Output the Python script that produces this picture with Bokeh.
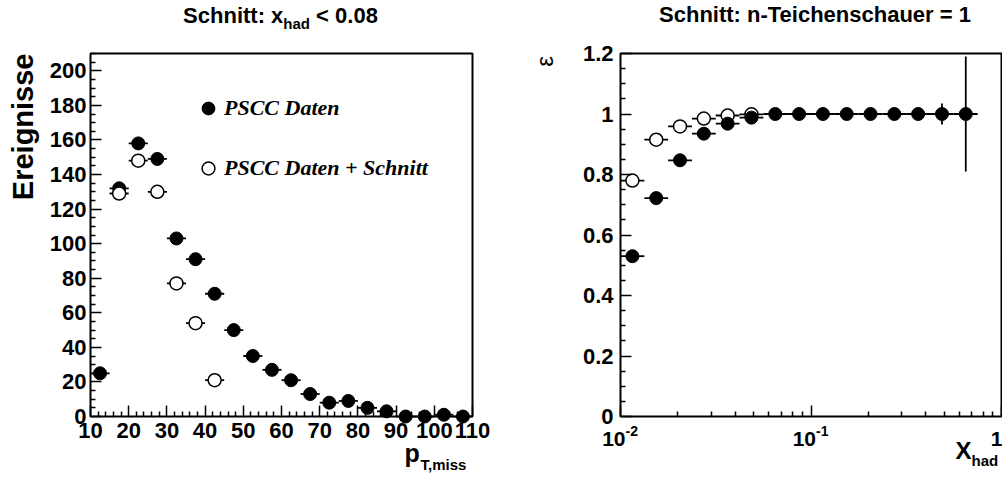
import math
from bokeh.plotting import figure
from bokeh.layouts import row
from bokeh.models import ColumnDataSource, FixedTicker, Legend, LegendItem, Range1d
from bokeh.core.properties import value
from bokeh.embed import file_html
from bokeh.resources import INLINE

# ---------------- data: left panel (p_T,miss distribution) ----------------
pt_centers = [12.5, 17.5, 22.5, 27.5, 32.5, 37.5, 42.5, 47.5, 52.5, 57.5,
              62.5, 67.5, 72.5, 77.5, 82.5, 87.5, 92.5, 97.5, 102.5, 107.5]
pt_bin_half_width = 2.5
events_all = [25, 132, 158, 149, 103, 91, 71, 50, 35, 27,
              21, 13, 8, 9, 5, 3, 0, 0, 1, 0]
pt_centers_cut = [17.5, 22.5, 27.5, 32.5, 37.5, 42.5]
events_cut = [129, 148, 130, 77, 54, 21]
left_x_ticks = [10, 20, 30, 40, 50, 60, 70, 80, 90, 100, 110]
left_y_ticks = [0, 20, 40, 60, 80, 100, 120, 140, 160, 180, 200]
legend_labels = ["PSCC Daten", "PSCC Daten + Schnitt"]

# ---------------- data: right panel (efficiency vs x_had) ----------------
xhad_edges = [0.01, 0.01334, 0.01778, 0.02371, 0.03162, 0.04217, 0.05623, 0.07499,
              0.1, 0.1334, 0.1778, 0.2371, 0.3162, 0.4217, 0.5623, 0.7499]
eff_all = [0.53, 0.722, 0.847, 0.935, 0.968, 0.988, 1.0, 1.0,
           1.0, 1.0, 1.0, 1.0, 1.0, 1.0, 1.0]
eff_all_err = [0, 0, 0, 0, 0, 0, 0, 0, 0, 0, 0, 0, 0, 0.035, 0.19]
eff_cut = [0.78, 0.915, 0.959, 0.985, 0.995, 0.999]
right_y_ticks = [0, 0.2, 0.4, 0.6, 0.8, 1.0, 1.2]
right_y_tick_labels = ["0", "0.2", "0.4", "0.6", "0.8", "1", "1.2"]
right_x_ticks = [0.01, 0.1, 1.0]
right_x_tick_bases = ["10", "10", "1"]
right_x_tick_exps = ["-2", "-1", ""]

FONT = "Liberation Sans"
SERIF = "Liberation Serif"
W, H = 501, 478
TOP, BOTTOM = 53, 416          # visible box, panel pixels from top
BASE_K = 0.32                  # baseline correction (fraction of font size)

# visible box geometry (panel-local pixels)
L_LEFT, L_RIGHT = 90, 472
L_XR, L_YR = (10, 110), (0, 210)
R_LEFT, R_RIGHT = 119, 500
R_XR, R_YR = (0.01, 1.0), (0, 1.2)

# the plotting frame covers the whole panel; the box is drawn inside it
lxs = (L_RIGHT - L_LEFT) / (L_XR[1] - L_XR[0])
lys = (BOTTOM - TOP) / (L_YR[1] - L_YR[0])
rxs = (R_RIGHT - R_LEFT) / (math.log10(R_XR[1]) - math.log10(R_XR[0]))
rys = (BOTTOM - TOP) / (R_YR[1] - R_YR[0])


def lx(px):
    return L_XR[0] + (px - L_LEFT) / lxs


def ly(py):
    return L_YR[0] + (BOTTOM - py) / lys


def rx(px):
    return 10 ** (math.log10(R_XR[0]) + (px - R_LEFT) / rxs)


def ry(py):
    return R_YR[0] + (BOTTOM - py) / rys


def txt(p, fx, fy, px, py, s, size, style="bold", align="left", rotated=False,
        font=FONT, x_offset=0):
    """Text whose baseline starts at panel pixel (px, py)."""
    if rotated:
        px = px - BASE_K * size
    else:
        py = py - BASE_K * size
    p.text(x=[fx(px)], y=[fy(py)], text=[s], text_font=value(font),
           text_font_size=value(f"{size}px"), text_font_style=value(style),
           text_align=align, text_baseline="alphabetic",
           angle=(math.pi / 2 if rotated else 0.0),
           x_offset=x_offset, text_color="black")


def style_axes(p, xloc, yloc):
    p.outline_line_color = None
    p.xgrid.visible = False
    p.ygrid.visible = False
    p.background_fill_color = "white"
    p.border_fill_color = "white"
    p.xaxis[0].fixed_location = xloc
    p.yaxis[0].fixed_location = yloc
    for ax in (p.xaxis[0], p.yaxis[0]):
        ax.axis_line_color = None
        ax.major_tick_in = 11
        ax.major_tick_out = 0
        ax.minor_tick_in = 5
        ax.minor_tick_out = 0
        ax.major_tick_line_width = 1.5
        ax.minor_tick_line_width = 1.5
        ax.major_tick_line_color = "black"
        ax.minor_tick_line_color = "black"
        ax.major_label_text_font = FONT
        ax.major_label_text_font_style = "bold"
        ax.major_label_text_font_size = "22px"
        ax.major_label_text_color = "black"


# ======================= left panel =======================
p1 = figure(width=W, height=H,
            x_range=Range1d(lx(0), lx(W)), y_range=Range1d(ly(H), ly(0)),
            output_backend="svg", toolbar_location=None, min_border=0)
style_axes(p1, L_YR[0], L_XR[0])
p1.xaxis.ticker = FixedTicker(ticks=left_x_ticks,
                              minor_ticks=[v for v in range(10, 111, 2) if v % 10])
p1.yaxis.ticker = FixedTicker(ticks=left_y_ticks,
                              minor_ticks=[v for v in range(0, 211, 5) if v % 20])
p1.xaxis.major_label_standoff = 6
p1.yaxis.major_label_standoff = 4

p1.quad(left=[L_XR[0]], right=[L_XR[1]], bottom=[L_YR[0]], top=[L_YR[1]],
        fill_color=None, line_color="black", line_width=2)

src_all = ColumnDataSource(dict(
    x=pt_centers, y=events_all,
    x0=[c - pt_bin_half_width for c in pt_centers],
    x1=[c + pt_bin_half_width for c in pt_centers]))
src_cut = ColumnDataSource(dict(
    x=pt_centers_cut, y=events_cut,
    x0=[c - pt_bin_half_width for c in pt_centers_cut],
    x1=[c + pt_bin_half_width for c in pt_centers_cut]))

p1.segment("x0", "y", "x1", "y", source=src_all, line_color="black", line_width=1.8)
r_all = p1.scatter("x", "y", source=src_all, marker="circle", size=13,
                   fill_color="black", line_color="black")
p1.segment("x0", "y", "x1", "y", source=src_cut, line_color="black", line_width=1.8)
r_cut = p1.scatter("x", "y", source=src_cut, marker="circle", size=13,
                   fill_color="white", line_color="black", line_width=1.5)

legend = Legend(items=[LegendItem(label=legend_labels[0], renderers=[r_all]),
                       LegendItem(label=legend_labels[1], renderers=[r_cut])],
                location=(192, 294), padding=0, spacing=28, margin=0,
                glyph_width=32, glyph_height=32, label_height=32, label_standoff=0,
                label_text_font=SERIF, label_text_font_style="bold italic",
                label_text_font_size="22px", label_text_color="black",
                border_line_alpha=0, background_fill_alpha=0)
p1.add_layout(legend)

# title with subscript
txt(p1, lx, ly, 182.6, 22, "Schnitt: x", 22)
txt(p1, lx, ly, 282.8, 28, "had", 15)
txt(p1, lx, ly, 315.6, 22, "< 0.08", 22)
# axis titles
txt(p1, lx, ly, 32, 53, "Ereignisse", 29, align="right", rotated=True)
txt(p1, lx, ly, 404, 460, "p", 25)
txt(p1, lx, ly, 420, 469, "T,miss", 15)

# ======================= right panel =======================
p2 = figure(width=W, height=H, x_axis_type="log",
            x_range=Range1d(rx(0), rx(W)), y_range=Range1d(ry(H), ry(0)),
            output_backend="svg", toolbar_location=None, min_border=0)
style_axes(p2, R_YR[0], R_XR[0])
p2.xaxis.ticker = FixedTicker(ticks=right_x_ticks,
                              minor_ticks=[m * d for d in (0.01, 0.1) for m in range(2, 10)])
p2.xaxis.major_label_text_color = None
p2.yaxis.ticker = FixedTicker(ticks=right_y_ticks,
                              minor_ticks=[v / 100 for v in range(0, 121, 5) if v % 20])
p2.yaxis.major_label_overrides = {t: s for t, s in zip(right_y_ticks, right_y_tick_labels)}
p2.yaxis.major_label_standoff = 7

p2.quad(left=[R_XR[0]], right=[R_XR[1]], bottom=[R_YR[0]], top=[R_YR[1]],
        fill_color=None, line_color="black", line_width=2)

n_all = len(eff_all)
centers = [math.sqrt(xhad_edges[i] * xhad_edges[i + 1]) for i in range(n_all)]
src_eff_all = ColumnDataSource(dict(
    x=centers, y=eff_all, x0=xhad_edges[:n_all], x1=xhad_edges[1:n_all + 1],
    ylo=[e - d for e, d in zip(eff_all, eff_all_err)],
    yhi=[e + d for e, d in zip(eff_all, eff_all_err)]))
n_cut = len(eff_cut)
src_eff_cut = ColumnDataSource(dict(
    x=centers[:n_cut], y=eff_cut, x0=xhad_edges[:n_cut], x1=xhad_edges[1:n_cut + 1]))

p2.segment("x0", "y", "x1", "y", source=src_eff_cut, line_color="black", line_width=1.8)
p2.scatter("x", "y", source=src_eff_cut, marker="circle", size=13,
           fill_color="white", line_color="black", line_width=1.5)
p2.segment("x0", "y", "x1", "y", source=src_eff_all, line_color="black", line_width=1.8)
p2.segment("x", "ylo", "x", "yhi", source=src_eff_all, line_color="black", line_width=1.8)
p2.scatter("x", "y", source=src_eff_all, marker="circle", size=13,
           fill_color="black", line_color="black")


def tick_x(t):
    return lambda px: t


# log-axis tick labels with superscripts
for t, b, e in zip(right_x_ticks, right_x_tick_bases, right_x_tick_exps):
    if e:
        txt(p2, tick_x(t), ry, 0, 445, b, 21, align="right", x_offset=5)
        txt(p2, tick_x(t), ry, 0, 435, e, 14, align="left", x_offset=5)
    else:
        txt(p2, tick_x(t), ry, 0, 445, b, 21, align="center", x_offset=-5)

# title and axis titles
txt(p2, rx, ry, 814.5 - 501, 21, "Schnitt: n-Teichenschauer = 1", 22, align="center")
txt(p2, rx, ry, 552 - 501, 61, "\u03b5", 24, style="normal", align="center",
    rotated=True)
txt(p2, rx, ry, 955 - 501, 458, "X", 24)
txt(p2, rx, ry, 971 - 501, 465, "had", 15)

layout = row(p1, p2)
open("out.html", "w").write(file_html(layout, INLINE))
